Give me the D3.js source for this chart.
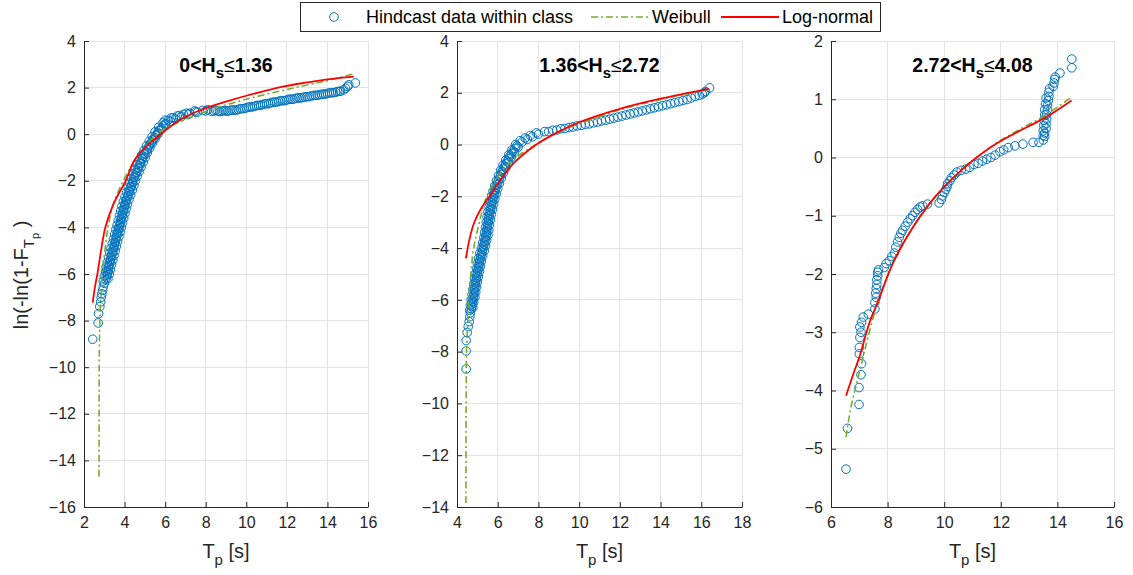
<!DOCTYPE html>
<html><head><meta charset="utf-8">
<script src="https://cdn.jsdelivr.net/npm/d3@7"></script>
<style>
body{margin:0;background:#fff;}
svg{display:block;font-family:"Liberation Sans",Arial,Helvetica,sans-serif;}
</style>
</head><body>
<svg id="chart" width="1133" height="575"></svg>
<script>
// ---------------- DATA ----------------
const classLow  = ["0", "1.36", "2.72"];
const classHigh = ["1.36", "2.72", "4.08"];
const legendLabels = ["Hindcast data within class", "Weibull", "Log-normal"];
const xLabel = "T";
const xLabelSub = "p";
const xUnit = " [s]";

const xDomains = [[2, 16], [4, 18], [6, 16]];
const yDomains = [[-16, 4], [-14, 4], [-6, 2]];
const xTicks1 = [2, 4, 6, 8, 10, 12, 14, 16];
const xTicks2 = [4, 6, 8, 10, 12, 14, 16, 18];
const xTicks3 = [6, 8, 10, 12, 14, 16];
const yTicks1 = [4, 2, 0, -2, -4, -6, -8, -10, -12, -14, -16];
const yTicks2 = [4, 2, 0, -2, -4, -6, -8, -10, -12, -14];
const yTicks3 = [2, 1, 0, -1, -2, -3, -4, -5, -6];

// Panel 1: 0 < Hs <= 1.36   [Tp, ln(-ln(1-F))]
const hindcast1 = [
 [2.43,-8.8],[2.7,-8.1],[2.72,-7.7],[2.78,-7.4],[2.82,-7.2],[2.85,-7.0],[2.88,-6.85],[2.92,-6.7],[2.95,-6.55],[3.0,-6.4],
 [2.95,-6.3],[3.18,-6.2],[3.0,-6.1],[3.25,-6.0],[3.06,-5.9],[3.3,-5.8],[3.09,-5.7],[3.36,-5.6],[3.15,-5.5],[3.42,-5.4],
 [3.21,-5.3],[3.48,-5.2],[3.27,-5.1],[3.54,-5.0],[3.33,-4.9],[3.6,-4.8],[3.39,-4.7],[3.66,-4.6],[3.45,-4.5],[3.72,-4.4],
 [3.51,-4.3],[3.78,-4.2],[3.57,-4.1],[3.84,-4.0],[3.63,-3.9],[3.9,-3.8],[3.69,-3.7],[3.96,-3.6],[3.75,-3.5],[4.02,-3.4],
 [3.81,-3.3],[4.08,-3.2],[3.87,-3.1],[4.14,-3.0],[3.94,-2.9],[4.22,-2.8],[4.02,-2.7],[4.3,-2.6],[4.1,-2.5],[4.38,-2.4],
 [4.18,-2.3],[4.46,-2.2],[4.26,-2.1],[4.54,-2.0],[4.34,-1.9],[4.62,-1.8],[4.43,-1.7],[4.72,-1.6],[4.53,-1.5],[4.82,-1.4],
 [4.63,-1.3],[4.92,-1.2],[4.73,-1.1],[5.02,-1.0],[4.84,-0.9],[5.12,-0.8],[4.96,-0.7],[5.24,-0.6],[5.08,-0.5],[5.36,-0.4],
 [5.22,-0.3],[5.5,-0.2],[5.36,-0.1],[5.64,0.0],[5.5,0.1],[5.8,0.2],[5.68,0.3],[6.0,0.4],[5.9,0.5],[6.25,0.55],
 [6.15,0.6],[6.5,0.65],[6.4,0.7],[6.8,0.75],[6.7,0.8],[7.15,0.85],[7.05,0.9],[7.5,0.95],[7.45,1.0],[7.85,1.02],[8.1,1.05],
 [3.07,-6.25],[3.1,-6.15],[3.13,-6.05],[3.16,-5.95],[3.19,-5.85],[3.2,-5.75],[3.23,-5.65],[3.26,-5.55],[3.29,-5.45],[3.32,-5.35],
 [3.35,-5.25],[3.38,-5.15],[3.41,-5.05],[3.44,-4.95],[3.47,-4.85],[3.5,-4.75],[3.53,-4.65],[3.56,-4.55],[3.59,-4.45],[3.62,-4.35],
 [3.65,-4.25],[3.68,-4.15],[3.71,-4.05],[3.74,-3.95],[3.77,-3.85],[3.8,-3.75],[3.83,-3.65],[3.86,-3.55],[3.89,-3.45],[3.92,-3.35],
 [3.95,-3.25],[3.98,-3.15],[4.01,-3.05],[4.04,-2.95],[4.08,-2.85],[4.12,-2.75],[4.16,-2.65],[4.2,-2.55],[4.24,-2.45],[4.28,-2.35],
 [4.32,-2.25],[4.36,-2.15],[4.4,-2.05],[4.44,-1.95],[4.48,-1.85],[4.53,-1.75],[4.58,-1.65],[4.63,-1.55],[4.68,-1.45],[4.73,-1.35],
 [4.78,-1.25],[4.83,-1.15],[4.88,-1.05],[4.94,-0.95],[5.0,-0.85],[5.06,-0.75],[5.12,-0.65],[5.18,-0.55],[5.25,-0.45],[5.32,-0.35],
 [5.4,-0.25],[5.47,-0.15],[5.54,-0.05],[5.62,0.05],[5.7,0.15],[5.8,0.25],[5.9,0.35],[6.02,0.45],
 [6.0,0.6],[6.3,0.7],[6.6,0.78],[6.9,0.85],[7.2,0.9],[7.6,0.95],[8.0,1.0],
 [8.3,0.98],[8.5,1.02],[8.7,0.97],[8.9,1.01],[9.1,0.99],[9.3,1.04],[9.5,1.03],[9.7,1.09],[9.9,1.1],[10.1,1.16],
 [10.3,1.17],[10.5,1.23],[10.7,1.24],[10.9,1.3],[11.1,1.31],[11.3,1.37],[11.5,1.38],[11.7,1.44],[11.9,1.44],[12.1,1.5],
 [12.3,1.5],[12.5,1.55],[12.7,1.56],[12.9,1.6],[13.1,1.61],[13.3,1.66],[13.5,1.67],[13.7,1.71],[13.9,1.72],[14.1,1.77],
 [14.3,1.78],[14.5,1.83],[14.65,1.85],[14.8,1.9],[14.9,1.97],[15.0,2.05],[15.05,2.12],[15.38,2.2],
 [8.4,1.0],[8.6,0.99],[8.8,0.99],[9.0,1.0],[9.2,1.02],[9.4,1.04],[9.6,1.06],[9.8,1.1],[10.0,1.13],[10.2,1.17],
 [10.4,1.2],[10.6,1.24],[10.8,1.27],[11.0,1.31],[11.2,1.34],[11.4,1.38],[11.6,1.41],[11.8,1.44],[12.0,1.47],[12.2,1.5],
 [12.4,1.53],[12.6,1.56],[12.8,1.58],[13.0,1.61],[13.2,1.64],[13.4,1.67],[13.6,1.69],[13.8,1.72],[14.0,1.75],[14.2,1.78],
 [14.4,1.8],[14.6,1.84]
];
const weibull1 = [
 [2.74,-14.7],[2.745,-12],[2.75,-10],[2.77,-8.5],[2.8,-7.5],[2.85,-6.8],[2.9,-6],[3.03,-5],[3.18,-4],[3.45,-3],
 [3.94,-2],[4.6,-1],[5.6,0],[6.5,0.45],[7.5,0.8],[8.5,1.12],[10,1.5],[12,1.92],[14,2.3],[15.36,2.6]
];
const lognormal1 = [
 [2.43,-7.23],[2.55,-6.5],[2.66,-6],[2.84,-5],[3.05,-4],[3.45,-3],[4.05,-2],[4.5,-1.1],[5.1,-0.5],[5.78,0],
 [6.7,0.6],[7.75,1.04],[9,1.4],[10,1.65],[11.86,2.05],[13,2.22],[14,2.35],[15.3,2.47]
];

// Panel 2: 1.36 < Hs <= 2.72
const hindcast2 = [
 [4.45,-8.67],[4.45,-7.97],[4.45,-7.57],[4.5,-7.26],[4.55,-7.03],[4.6,-6.84],[4.63,-6.65],[4.66,-6.5],
 [4.62,-6.4],[4.78,-6.3],[4.66,-6.2],[4.82,-6.1],[4.7,-6.0],[4.88,-5.9],[4.74,-5.8],[4.92,-5.7],[4.78,-5.6],[4.96,-5.5],
 [4.82,-5.4],[5.0,-5.3],[4.86,-5.2],[5.05,-5.1],[4.9,-5.0],[5.1,-4.9],[4.96,-4.8],[5.15,-4.7],[5.0,-4.6],[5.2,-4.5],
 [5.06,-4.4],[5.26,-4.3],[5.12,-4.2],[5.34,-4.1],[5.2,-4.0],[5.4,-3.9],[5.26,-3.8],[5.46,-3.7],[5.32,-3.6],[5.52,-3.5],
 [5.36,-3.4],[5.56,-3.3],[5.4,-3.2],[5.6,-3.1],[5.44,-3.0],[5.64,-2.9],[5.48,-2.8],[5.68,-2.7],[5.52,-2.6],[5.74,-2.5],
 [5.58,-2.4],[5.8,-2.3],[5.64,-2.2],[5.86,-2.1],[5.7,-2.0],[5.92,-1.9],[5.77,-1.8],[6.0,-1.7],[5.85,-1.6],[6.08,-1.5],
 [5.94,-1.4],[6.18,-1.3],[6.04,-1.2],[6.28,-1.1],[6.14,-1.0],[6.4,-0.9],[6.26,-0.8],[6.52,-0.7],[6.4,-0.6],[6.66,-0.5],
 [6.54,-0.4],[6.82,-0.3],[6.7,-0.2],[7.0,-0.1],[6.88,0.0],[7.2,0.1],[7.1,0.15],[7.45,0.2],[7.35,0.25],[7.7,0.3],
 [7.6,0.35],[8.0,0.4],[7.9,0.45],[8.3,0.5],
 [4.7,-6.35],[4.72,-6.25],[4.74,-6.15],[4.76,-6.05],[4.79,-5.95],[4.81,-5.85],[4.83,-5.75],[4.85,-5.65],[4.87,-5.55],[4.89,-5.45],
 [4.91,-5.35],[4.93,-5.25],[4.96,-5.15],[4.98,-5.05],[5.0,-4.95],[5.03,-4.85],[5.06,-4.75],[5.08,-4.65],[5.1,-4.55],[5.13,-4.45],
 [5.16,-4.35],[5.19,-4.25],[5.23,-4.15],[5.27,-4.05],[5.3,-3.95],[5.33,-3.85],[5.36,-3.75],[5.39,-3.65],[5.42,-3.55],[5.44,-3.45],
 [5.46,-3.35],[5.48,-3.25],[5.5,-3.15],[5.52,-3.05],[5.54,-2.95],[5.56,-2.85],[5.58,-2.75],[5.6,-2.65],[5.63,-2.55],[5.66,-2.45],
 [5.69,-2.35],[5.72,-2.25],[5.75,-2.15],[5.78,-2.05],[5.81,-1.95],[5.85,-1.85],[5.88,-1.75],[5.92,-1.65],[5.96,-1.55],[6.01,-1.45],
 [6.06,-1.35],[6.11,-1.25],[6.16,-1.15],[6.21,-1.05],[6.27,-0.95],[6.33,-0.85],[6.39,-0.75],[6.46,-0.65],[6.53,-0.55],[6.6,-0.45],
 [6.68,-0.35],[6.76,-0.25],[6.85,-0.15],[6.94,-0.05],
 [8.5,0.5],[8.7,0.55],[8.9,0.56],[9.1,0.61],[9.3,0.62],[9.5,0.66],[9.7,0.68],[9.9,0.72],[10.1,0.74],[10.3,0.78],
 [10.5,0.8],[10.7,0.84],[10.9,0.87],[11.1,0.91],[11.3,0.94],[11.5,0.98],[11.7,1.02],[11.9,1.06],[12.1,1.1],[12.3,1.14],
 [12.5,1.18],[12.7,1.22],[12.9,1.26],[13.1,1.3],[13.3,1.34],[13.5,1.38],[13.7,1.42],[13.9,1.46],[14.1,1.5],[14.3,1.54],
 [14.5,1.58],[14.7,1.62],[14.9,1.66],[15.1,1.7],[15.3,1.74],[15.5,1.8],[15.7,1.86],[15.9,1.9],[16.05,1.95],[16.15,2.0],
 [16.2,2.05],[16.41,2.19]
];
const weibull2 = [
 [4.44,-13.85],[4.445,-11],[4.45,-9.5],[4.47,-8],[4.52,-7],[4.58,-6],[4.68,-5],[4.82,-4],[5.1,-3],[5.46,-2],
 [5.95,-1.3],[6.6,-0.7],[7.85,0],[9,0.48],[10.07,0.82],[12,1.34],[14,1.74],[16.3,2.12]
];
const lognormal2 = [
 [4.44,-4.4],[4.6,-3.7],[4.85,-3],[5.2,-2.45],[5.6,-2],[6.1,-1.4],[6.75,-0.75],[7.9,0],[9,0.5],[10.07,0.88],
 [12,1.38],[14,1.77],[16.38,2.15]
];

// Panel 3: 2.72 < Hs <= 4.08
const hindcast3 = [
 [6.53,-5.35],[6.58,-4.65],[6.99,-4.24],[6.99,-3.95],[7.06,-3.73],[7.08,-3.54],[7.0,-3.37],[7.0,-3.26],[7.02,-3.09],[7.06,-3.0],
 [7.02,-2.91],[7.08,-2.83],[7.14,-2.74],[7.32,-2.69],[7.55,-2.6],[7.55,-2.49],[7.6,-2.4],[7.58,-2.33],[7.6,-2.25],[7.62,-2.18],
 [7.62,-2.1],[7.65,-2.03],[7.65,-1.97],[7.68,-1.93],[7.88,-1.89],[7.95,-1.82],[8.06,-1.77],[8.15,-1.7],[8.24,-1.64],[8.29,-1.54],
 [8.35,-1.45],[8.41,-1.37],[8.47,-1.3],[8.53,-1.25],[8.62,-1.18],[8.71,-1.11],[8.8,-1.05],[8.88,-1.0],[8.97,-0.94],[9.06,-0.89],
 [9.15,-0.85],[9.24,-0.83],[9.41,-0.8],[9.82,-0.78],[9.9,-0.72],[9.94,-0.66],[10.0,-0.6],[10.06,-0.55],[10.1,-0.5],[10.12,-0.45],
 [10.2,-0.4],[10.25,-0.35],[10.35,-0.3],[10.45,-0.25],[10.6,-0.22],[10.76,-0.2],[10.9,-0.17],[11.05,-0.12],[11.2,-0.1],[11.35,-0.06],
 [11.5,-0.03],[11.65,0.0],[11.8,0.04],[11.97,0.1],[12.1,0.13],[12.26,0.17],[12.5,0.2],[12.78,0.23],[13.14,0.26],[13.35,0.26],
 [13.5,0.3],[13.55,0.36],[13.55,0.42],[13.6,0.5],[13.6,0.58],[13.62,0.66],[13.62,0.74],[13.65,0.82],[13.65,0.9],[13.68,0.98],
 [13.7,1.05],[13.7,1.12],[13.72,1.18],[13.85,1.22],[13.88,1.28],[13.9,1.34],[13.92,1.38],[14.09,1.45],[14.51,1.54],[14.51,1.69],
 [13.5,0.38],[13.5,0.46],[13.52,0.55],[13.52,0.64],[13.55,0.73],[13.55,0.82],[13.58,0.92],[13.6,1.02]
];
const weibull3 = [
 [6.53,-4.8],[6.7,-4.3],[6.9,-3.89],[7.1,-3.5],[7.3,-3.1],[7.67,-2.46],[8.29,-1.71],[9.47,-0.8],[10.65,-0.2],[11.82,0.24],
 [13.0,0.57],[13.6,0.73],[14.5,1.04]
];
const lognormal3 = [
 [6.53,-4.09],[6.8,-3.7],[7.02,-3.4],[7.35,-2.85],[7.67,-2.46],[8.29,-1.71],[9.47,-0.8],[10.65,-0.2],[11.82,0.23],[13.0,0.54],
 [13.59,0.69],[14.5,0.98]
];

// ---------------- DRAWING ----------------
const svg = d3.select("#chart");
svg.append("rect").attr("width",1133).attr("height",575).attr("fill","#fff");

const panels = [
  {x0:84,  x1:368,  xd:xDomains[0], yd:yDomains[0], xt:xTicks1, yt:yTicks1, pts:hindcast1, wb:weibull1, ln:lognormal1},
  {x0:457, x1:742,  xd:xDomains[1], yd:yDomains[1], xt:xTicks2, yt:yTicks2, pts:hindcast2, wb:weibull2, ln:lognormal2},
  {x0:831, x1:1114, xd:xDomains[2], yd:yDomains[2], xt:xTicks3, yt:yTicks3, pts:hindcast3, wb:weibull3, ln:lognormal3}
];
const yTop = 41, yBot = 507;
const axisColor = "#262626";
const gridColor = "#e3e3e3";
const blue = "#0072BD", green = "#77AC30", red = "#FF0000";

panels.forEach((p, i) => {
  const x = d3.scaleLinear().domain(p.xd).range([p.x0, p.x1]);
  const y = d3.scaleLinear().domain(p.yd).range([yBot, yTop]);
  const g = svg.append("g");

  // grid
  g.append("g").selectAll("line").data(p.xt).join("line")
    .attr("x1", d => x(d)).attr("x2", d => x(d)).attr("y1", yTop).attr("y2", yBot)
    .attr("stroke", gridColor).attr("stroke-width", 1).attr("shape-rendering","crispEdges");
  g.append("g").selectAll("line").data(p.yt).join("line")
    .attr("x1", p.x0).attr("x2", p.x1).attr("y1", d => y(d)).attr("y2", d => y(d))
    .attr("stroke", gridColor).attr("stroke-width", 1).attr("shape-rendering","crispEdges");

  // data circles
  g.append("g").selectAll("circle").data(p.pts).join("circle")
    .attr("cx", d => x(d[0])).attr("cy", d => y(d[1])).attr("r", 4.3)
    .attr("fill", "none").attr("stroke", blue).attr("stroke-width", 1);

  const line = d3.line().x(d => x(d[0])).y(d => y(d[1])).curve(d3.curveCatmullRom.alpha(0.5));
  g.append("path").attr("d", line(p.wb)).attr("fill","none").attr("stroke", green)
    .attr("stroke-width", 1.6).attr("stroke-dasharray","7,3,2,3");
  g.append("path").attr("d", line(p.ln)).attr("fill","none").attr("stroke", red)
    .attr("stroke-width", 1.8);

  // axes
  const ax = g.append("g").attr("transform", `translate(0,${yBot})`)
    .call(d3.axisBottom(x).tickValues(p.xt).tickSizeInner(-5).tickSizeOuter(0).tickPadding(10));
  const ay = g.append("g").attr("transform", `translate(${p.x0},0)`)
    .call(d3.axisLeft(y).tickValues(p.yt).tickSizeInner(-5).tickSizeOuter(0).tickPadding(8));
  [ax, ay].forEach(a => {
    a.select(".domain").attr("stroke", axisColor).attr("stroke-width", 1);
    a.selectAll(".tick line").attr("stroke", axisColor);
    a.selectAll("text").attr("fill", axisColor).style("font-size","16px")
      .style("font-family",'"Liberation Sans",Arial,sans-serif');
  });

  // title
  const cx = (p.x0 + p.x1) / 2;
  const t = g.append("text").attr("x", cx).attr("y", 72).attr("text-anchor","middle")
    .attr("fill","#000").style("font-weight","bold").style("font-size","19.5px");
  t.append("tspan").text(classLow[i] + "<H");
  t.append("tspan").attr("dy", 6).style("font-size","15px").text("s");
  t.append("tspan").attr("dy", -6).style("font-weight","normal").text("≤");
  t.append("tspan").text(classHigh[i]);

  // x label
  const xl = g.append("text").attr("x", cx).attr("y", 558).attr("text-anchor","middle")
    .attr("fill", axisColor).style("font-size","20px");
  xl.append("tspan").text(xLabel);
  xl.append("tspan").attr("dy", 7).style("font-size","15px").text(xLabelSub);
  xl.append("tspan").attr("dy", -7).text(xUnit);
});

// y label
const yl = svg.append("text").attr("transform","translate(28,275) rotate(-90)")
  .attr("text-anchor","middle").attr("fill", axisColor).style("font-size","20px");
yl.append("tspan").text("ln(-ln(1-F");
yl.append("tspan").attr("dy", 6).style("font-size","15px").text("T");
yl.append("tspan").attr("dy", 5).style("font-size","11px").text("p");
yl.append("tspan").attr("dy", -11).text(" )");

// legend
const lg = svg.append("g");
lg.append("rect").attr("x", 300.5).attr("y", 2.5).attr("width", 580).attr("height", 29)
  .attr("fill","#fff").attr("stroke","#262626").attr("stroke-width",1);
const ly = 17;
lg.append("circle").attr("cx", 334).attr("cy", ly).attr("r", 4.3).attr("fill","none").attr("stroke", blue);
lg.append("text").attr("x", 366).attr("y", ly + 6).style("font-size","18px").attr("fill","#000").text(legendLabels[0]);
lg.append("line").attr("x1", 591).attr("x2", 649).attr("y1", ly).attr("y2", ly)
  .attr("stroke", green).attr("stroke-width",1.6).attr("stroke-dasharray","7,3,2,3");
lg.append("text").attr("x", 652).attr("y", ly + 6).style("font-size","18px").attr("fill","#000").text(legendLabels[1]);
lg.append("line").attr("x1", 721).attr("x2", 779).attr("y1", ly).attr("y2", ly)
  .attr("stroke", red).attr("stroke-width",1.8);
lg.append("text").attr("x", 782).attr("y", ly + 6).style("font-size","18px").attr("fill","#000").text(legendLabels[2]);
</script>
</body></html>
